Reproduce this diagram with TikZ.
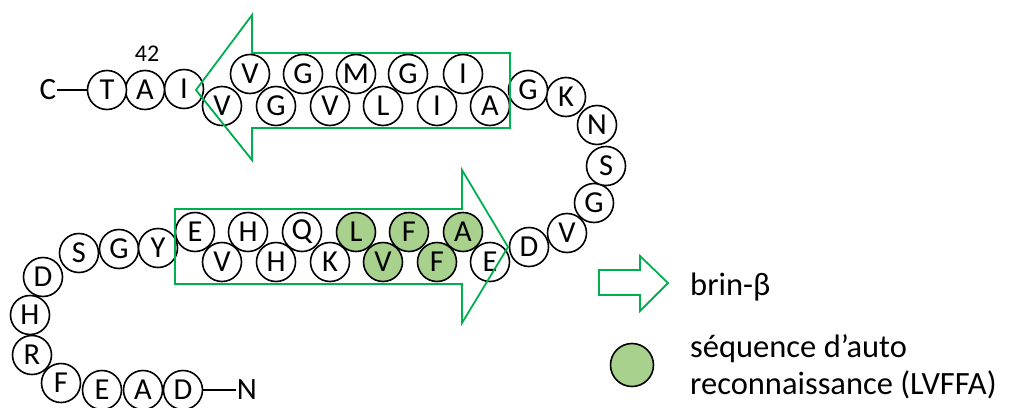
\documentclass[tikz,border=0pt]{standalone}
\usepackage{fontspec}
\setmainfont{Carlito}
\definecolor{brinvert}{RGB}{0,176,80}
\definecolor{lvffavert}{RGB}{169,209,142}
\tikzset{aa/.style={circle,draw=black,line width=1.6pt,fill=white,minimum size=39pt,inner sep=0pt,font=\fontsize{30.5}{32}\selectfont},
	lvffa/.style={aa,fill=lvffavert},
	brin/.style={draw=brinvert,line width=1.8pt,line join=miter},
	bout/.style={font=\fontsize{31}{33}\selectfont,inner sep=1pt},
	leg/.style={font=\fontsize{32.5}{37}\selectfont,inner sep=0pt}}
\usetikzlibrary{positioning}

\begin{document}
\begin{tikzpicture}[x=1pt,y=-1pt]
		\useasboundingbox (0,0) rectangle (1009,407);
		
		% N-terminal tail
		\path[nodes={aa}]
		(183,390) node (r1) {D}
		(143,390) node (r2) {A}
		(102,390) node (r3) {E}
		(61,383)  node (r4) {F}
		(32,355)  node (r5) {R}
		(30,315)  node (r6) {H}
		(43,277)  node (r7) {D}
		(79,253)  node (r8) {S}
		(119,249) node (r9) {G}
		(158,248) node (r10) {Y};
		
		% lower strand
		\path[nodes={aa}]
		(195,232) node (r11) {E}
		(222,262) node (r12) {V}
		(248,232) node (r13) {H}
		(276,262) node (r14) {H}
		(302,232) node (r15) {Q}
		(330,262) node (r16) {K}
		(490,262) node (r22) {E};
		\path[nodes={lvffa}]
		(356,232) node (r17) {L}
		(383,262) node (r18) {V}
		(409,232) node (r19) {F}
		(437,262) node (r20) {F}
		(463,232) node (r21) {A};
		
		% turn
		\path[nodes={aa}]
		(529,247) node (r23) {D}
		(567,233) node (r24) {V}
		(594,203) node (r25) {G}
		(606,166) node (r26) {S}
		(597,125) node (r27) {N}
		(566,97)  node (r28) {K}
		(528,90)  node (r29) {G};
		
		% upper strand
		\path[nodes={aa}]
		(490,106) node (r30) {A}
		(463,74)  node (r31) {I}
		(437,106) node (r32) {I}
		(408,74)  node (r33) {G}
		(383,106) node (r34) {L}
		(356,74)  node (r35) {M}
		(330,106) node (r36) {V}
		(303,74)  node (r37) {G}
		(276,106) node (r38) {G}
		(250,74)  node (r39) {V}
		(222,106) node (r40) {V};
		
		% C-terminal tail
		\path[nodes={aa}]
		(184,89)  node (r41) {I}
		(145,90)  node (r42) {A}
		(107,90)  node (r43) {T};
		\node[font=\fontsize{24}{26}\selectfont] (lab42) at (147,54) {42};
		
		\node[bout] (cterm) at (48,90) {C};
		\node[bout] (nterm) at (247,390) {N};
		\draw[line width=2.4pt] (cterm) -- (r43);
		\draw[line width=2.4pt] (r1) -- (nterm);
		
		% beta strands
		\draw[brin] (510,53) -- (252,53) -- (252,15) -- (196,90) -- (252,160) -- (252,128) -- (510,128) -- cycle;
		\draw[brin] (175,209) -- (462,209) -- (462,170) -- (508,247) -- (462,323) -- (462,284) -- (175,284) -- cycle;
		
		% legend
		\draw[brin] (599,270) -- (640,270) -- (640,256) -- (668,283) -- (640,311) -- (640,295) -- (599,295) -- cycle;
		\node[circle,draw=black,line width=1.6pt,fill=lvffavert,minimum size=43pt] (leg2) at (632,365) {};
		\node[leg,anchor=base west] (txt1) at (690,295) {brin-β};
		\node[leg,anchor=west,align=left] (txt2) at (690,367) {séquence d’auto\\reconnaissance (LVFFA)};
	\end{tikzpicture}
\end{document}
